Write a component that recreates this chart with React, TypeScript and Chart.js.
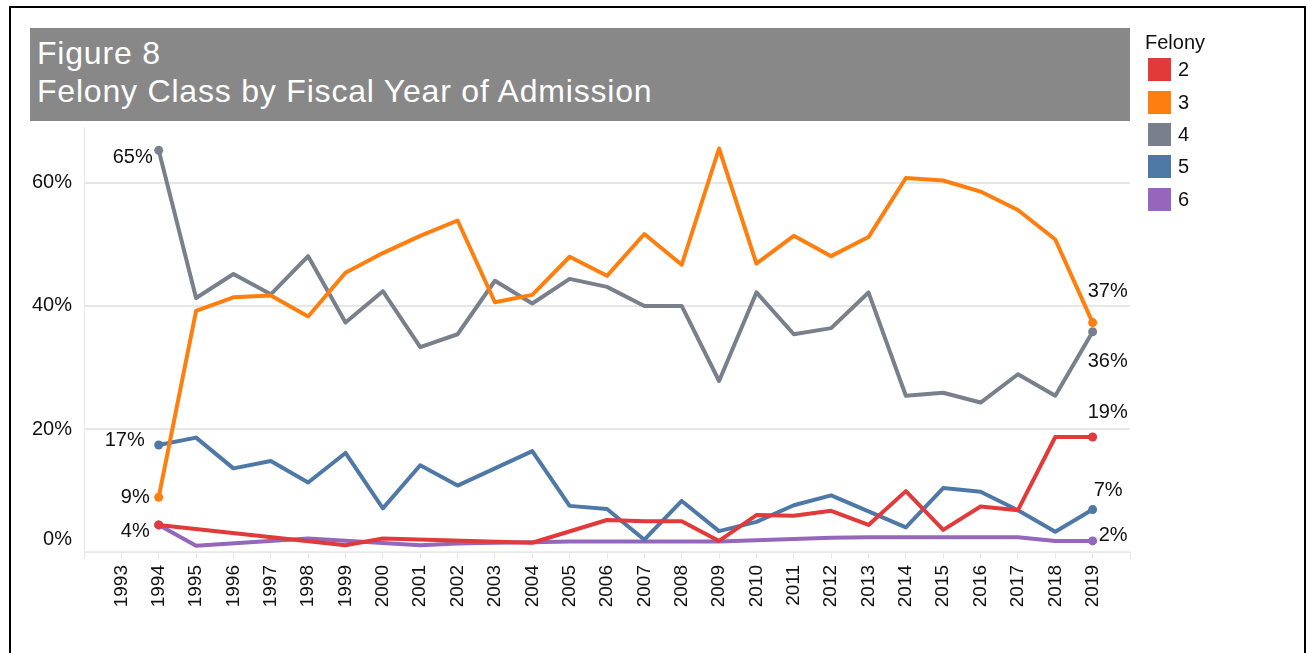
import React, { useEffect, useRef } from "react";
import { Chart, registerables } from "chart.js";

Chart.register(...registerables);

// ---------- data ----------
const years = [
  1994, 1995, 1996, 1997, 1998, 1999, 2000, 2001, 2002, 2003, 2004, 2005, 2006,
  2007, 2008, 2009, 2010, 2011, 2012, 2013, 2014, 2015, 2016, 2017, 2018, 2019,
];
const axisYears = [
  1992, 1993, 1994, 1995, 1996, 1997, 1998, 1999, 2000, 2001, 2002, 2003, 2004,
  2005, 2006, 2007, 2008, 2009, 2010, 2011, 2012, 2013, 2014, 2015, 2016, 2017,
  2018, 2019, 2020,
];
const yTickValues = [0, 20, 40, 60];

const class2 = [
  4.4, null, null, null, null, 1.1, 2.2, null, null, null, 1.5, null, 5.2,
  5.0, 5.0, 1.8, 6.0, 5.9, 6.7, 4.4, 9.9, 3.6, 7.4, 6.8, 18.7, 18.7,
];
const class3 = [
  8.9, 39.2, 41.4, 41.7, 38.3, 45.4, 48.6, 51.4, 53.9, 40.6, 41.8, 48.0, 44.9,
  51.7, 46.7, 65.6, 46.9, 51.4, 48.1, 51.2, 60.8, 60.4, 58.6, 55.6, 50.8, 37.3,
];
const class4 = [
  65.3, 41.3, 45.2, 41.9, 48.1, 37.3, 42.4, 33.3, 35.4, 44.1, 40.4, 44.4, 43.1,
  40.0, 40.0, 27.8, 42.2, 35.4, 36.4, 42.2, 25.4, 25.9, 24.3, 28.9, 25.4, 35.8,
];
const class5 = [
  17.4, 18.6, 13.6, 14.8, 11.3, 16.1, 7.1, 14.1, 10.8, 13.6, 16.4, 7.5, 7.0,
  2.0, 8.3, 3.4, 4.9, 7.6, 9.2, 6.6, 4.0, 10.4, 9.8, 6.8, 3.3, 6.9,
];
const class6 = [
  4.4, 1.0, null, null, 2.2, null, null, 1.1, 1.4, 1.5, 1.6, 1.7, 1.7,
  1.7, 1.7, 1.7, 1.9, 2.1, 2.3, 2.4, 2.4, 2.4, 2.4, 2.4, 1.8, 1.8,
];

const seriesNames = ["2", "3", "4", "5", "6"];
const seriesValues = [class2, class3, class4, class5, class6];
const seriesColors = ["#e2393a", "#ff7f0e", "#79808b", "#4e79a7", "#9467bd"];

const titleLine1 = "Figure 8";
const titleLine2 = "Felony Class by Fiscal Year of Admission";
const legendTitle = "Felony";

// label placement (styling only): offsets from first / last point
type LabelPos = { dx: number; dy: number; align: CanvasTextAlign } | null;
const firstLabelPos: LabelPos[] = [
  { dx: -9, dy: 7, align: "right" },
  { dx: -9, dy: 0, align: "right" },
  { dx: -6, dy: 7, align: "right" },
  { dx: -14, dy: -4, align: "right" },
  null,
];
const lastLabelPos: LabelPos[] = [
  { dx: -5, dy: -24, align: "left" },
  { dx: -5, dy: -31, align: "left" },
  { dx: -5, dy: 30, align: "left" },
  { dx: 1, dy: -19, align: "left" },
  { dx: 6, dy: -5, align: "left" },
];

const FONT = "'Liberation Sans', Arial, Helvetica, sans-serif";

const fmtPct = (v: number) => `${Math.round(v)}%`;

const endLabelPlugin = {
  id: "endLabels",
  afterDatasetsDraw(chart: any) {
    const ctx = chart.ctx;
    ctx.save();
    ctx.font = `20px ${FONT}`;
    ctx.fillStyle = "#111";
    ctx.textBaseline = "middle";
    chart.data.datasets.forEach((ds: any, i: number) => {
      const meta = chart.getDatasetMeta(i);
      const pts = meta.data;
      const n = pts.length;
      const pairs: [number, LabelPos][] = [
        [0, firstLabelPos[i]],
        [n - 1, lastLabelPos[i]],
      ];
      pairs.forEach(([idx, pos]) => {
        if (!pos) return;
        const v = ds.data[idx].y;
        if (v == null) return;
        const p = pts[idx];
        ctx.textAlign = pos.align;
        ctx.fillText(fmtPct(v), p.x + pos.dx, p.y + pos.dy);
      });
    });
    // the baseline tick label sits slightly above the axis line
    const ys = chart.scales.y;
    const base = yTickValues[0];
    ctx.textAlign = "right";
    ctx.fillText(fmtPct(base), chart.chartArea.left - 12, ys.getPixelForValue(base) - 13);
    ctx.restore();
  },
};

export default function App() {
  const canvasRef = useRef<HTMLCanvasElement | null>(null);

  useEffect(() => {
    if (!canvasRef.current) return;
    const datasets = seriesNames.map((name, i) => {
      const vals = seriesValues[i];
      const n = vals.length;
      return {
        label: name,
        data: years.map((yr, j) => ({ x: yr, y: vals[j] })),
        borderColor: seriesColors[i],
        backgroundColor: seriesColors[i],
        borderWidth: 4,
        tension: 0,
        spanGaps: true,
        pointRadius: (c: any) => (c.dataIndex === 0 || c.dataIndex === n - 1 ? 4.5 : 0),
        pointHoverRadius: 0,
        pointBorderWidth: 0,
        borderJoinStyle: "round" as const,
        borderCapStyle: "round" as const,
      };
    });

    const chart = new Chart(canvasRef.current, {
      type: "line",
      data: { datasets: datasets as any },
      options: {
        responsive: false,
        animation: false,
        events: [],
        layout: { padding: { left: 20, right: 178, top: 127.6, bottom: 0 } },
        plugins: {
          legend: { display: false },
          tooltip: { enabled: false },
          title: { display: false },
        },
        scales: {
          x: {
            type: "linear",
            min: 1992,
            max: 2020,
            afterBuildTicks: (scale: any) => {
              scale.ticks = axisYears.map((v) => ({ value: v }));
            },
            afterFit: (scale: any) => {
              scale.height = 101;
            },
            ticks: {
              autoSkip: false,
              minRotation: 90,
              maxRotation: 90,
              padding: 6,
              color: "#111",
              font: { family: FONT, size: 19 },
              callback: (v: any) =>
                v === axisYears[0] || v === axisYears[axisYears.length - 1] ? "" : String(v),
            },
            grid: {
              drawOnChartArea: false,
              drawTicks: true,
              tickLength: 7,
              color: "#e6e6e6",
            },
            border: { display: true, color: "#e8e8e8", width: 1 },
          },
          y: {
            type: "linear",
            min: 0,
            max: 69,
            afterBuildTicks: (scale: any) => {
              scale.ticks = yTickValues.map((v) => ({ value: v }));
            },
            afterFit: (scale: any) => {
              scale.width = 64;
            },
            ticks: {
              padding: 12,
              color: "#111",
              font: { family: FONT, size: 20 },
              callback: (v: any) => (v === yTickValues[0] ? "" : fmtPct(v)),
            },
            grid: {
              drawTicks: false,
              color: (c: any) => (c.tick && c.tick.value === 0 ? "#eeeeee" : "#e6e6e6"),
              lineWidth: 2,
            },
            border: { display: true, color: "#e8e8e8", width: 1 },
          },
        },
      },
      plugins: [endLabelPlugin],
    });
    return () => chart.destroy();
  }, []);

  return (
    <div
      style={{
        position: "absolute",
        left: 0,
        top: 0,
        width: 1308,
        height: 653,
        overflow: "hidden",
        background: "#fff",
        fontFamily: FONT,
      }}
    >
      <div
        style={{
          position: "absolute",
          left: 9,
          top: 6,
          width: 1293,
          height: 660,
          borderLeft: "2px solid #000",
          borderTop: "2px solid #000",
          borderRight: "2px solid #000",
        }}
      />
      <canvas
        ref={canvasRef}
        width={1308}
        height={653}
        style={{ position: "absolute", left: 0, top: 0, width: 1308, height: 653 }}
      />
      <div
        style={{
          position: "absolute",
          left: 30,
          top: 28,
          width: 1100,
          height: 93,
          background: "#888888",
          color: "#fff",
          boxSizing: "border-box",
          paddingLeft: 7,
          paddingTop: 6,
          fontSize: 32,
          lineHeight: "38px",
          letterSpacing: "0.8px",
          whiteSpace: "nowrap",
        }}
      >
        <div>{titleLine1}</div>
        <div>{titleLine2}</div>
      </div>
      <div style={{ position: "absolute", left: 1145, top: 31, color: "#111" }}>
        <div style={{ fontSize: 20, lineHeight: "23px", height: 22.5 }}>{legendTitle}</div>
        {seriesNames.map((name, i) => (
          <div
            key={name}
            style={{ display: "flex", alignItems: "center", height: 32.4, marginLeft: 3 }}
          >
            <div style={{ width: 23, height: 23, background: seriesColors[i] }} />
            <div style={{ fontSize: 20, marginLeft: 7 }}>{name}</div>
          </div>
        ))}
      </div>
    </div>
  );
}
